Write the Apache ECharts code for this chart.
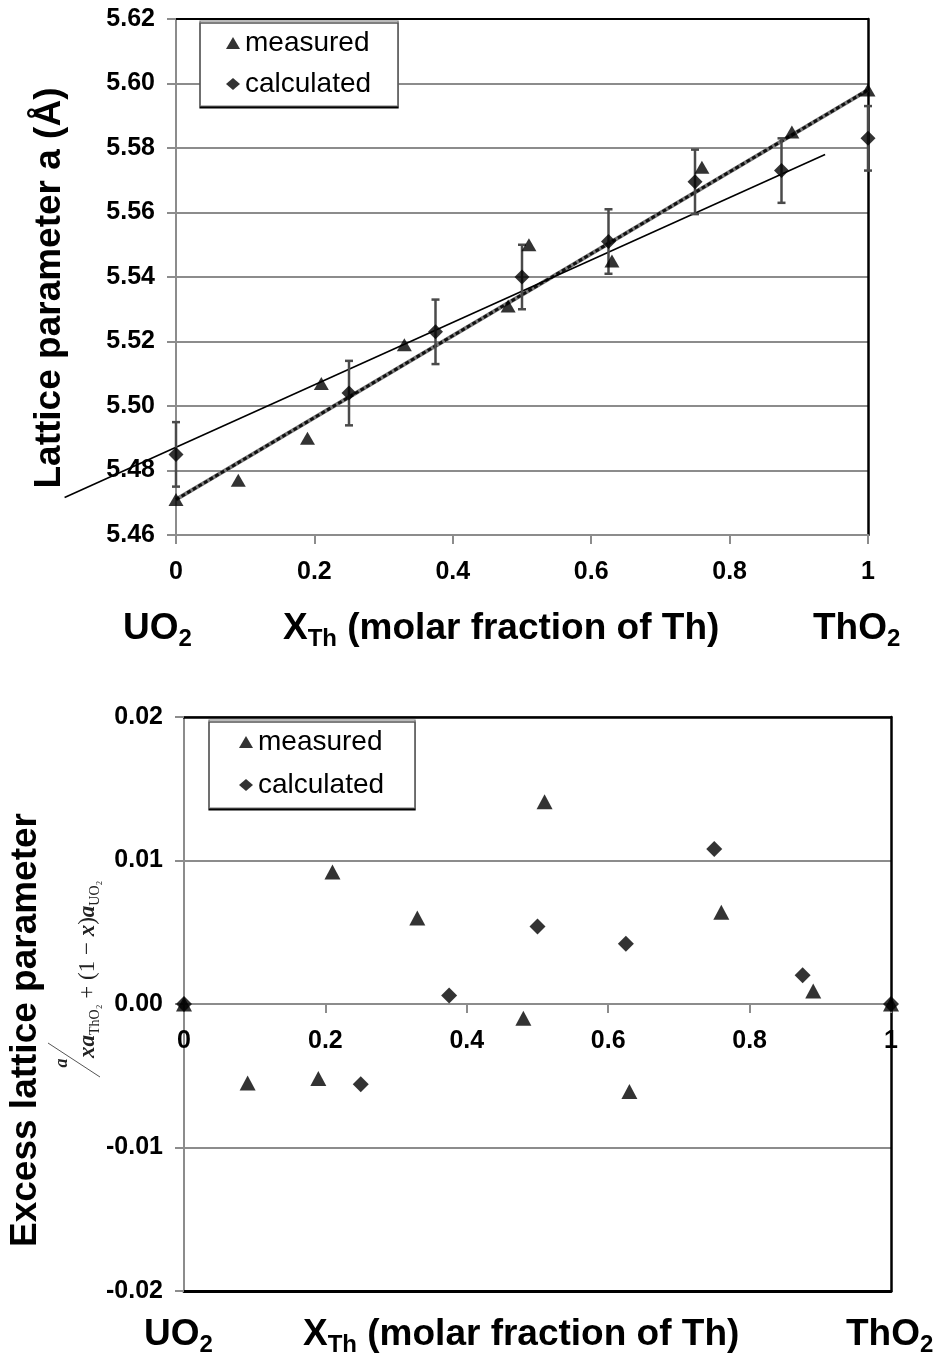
<!DOCTYPE html>
<html><head><meta charset="utf-8">
<script src="https://cdn.jsdelivr.net/npm/echarts@6/dist/echarts.min.js"></script>
<style>html,body{margin:0;padding:0;background:#fff}#c{width:936px;height:1361px}</style>
</head><body><div id="c"></div>
<script>
// ---- data ----
const xMeasured   = [0, 0.09, 0.19, 0.21, 0.33, 0.48, 0.51, 0.63, 0.76, 0.89, 1.0];
const aMeasured   = [5.471, 5.477, 5.490, 5.507, 5.519, 5.531, 5.550, 5.545, 5.574, 5.585, 5.598];
const xCalculated = [0, 0.25, 0.375, 0.5, 0.625, 0.75, 0.875, 1.0];
const aCalculated = [5.485, 5.504, 5.523, 5.540, 5.551, 5.5695, 5.573, 5.583];
const aCalculatedErr = [0.01, 0.01, 0.01, 0.01, 0.01, 0.01, 0.01, 0.01];
const vegardX = [0, 1];
const vegardA = [5.471, 5.598];
const fitX = [-0.161, 0.938];
const fitA = [5.4716, 5.578];
const excessMeasured   = [0, -0.0055, -0.0052, 0.0092, 0.0060, -0.0010, 0.0141, -0.0061, 0.0064, 0.0009, 0];
const excessCalculated = [0, -0.0056, 0.0006, 0.0054, 0.0042, 0.0108, 0.0020, 0];
const seriesNames = ['measured', 'calculated'];

// ---- styling ----
const SANS = '"Liberation Sans", Arial, sans-serif';
const SERIF = '"Liberation Serif", "Times New Roman", serif';
const GRAY = '#8c8c8c';
const pairs = (xs, ys) => xs.map((x, i) => [x, ys[i]]);

// top plot geometry (pixels) and an extended hidden grid with the same scale
const TOP = {left: 176, top: 19, width: 692, height: 516};
const EXT_MIN = -0.2;
const BOT = {left: 184, top: 717, width: 707, height: 574};

const chart = echarts.init(document.getElementById('c'), null, {renderer: 'canvas'});

const tickLabel = {color: '#000', fontFamily: SANS, fontWeight: 'bold', fontSize: 25};
function mainXAxis(gridIndex, offset) {
  return {
    type: 'value', gridIndex, min: 0, max: 1, interval: 0.2, position: 'bottom', offset: offset || 0,
    axisLine: {show: true, onZero: false, lineStyle: {color: GRAY, width: 2}},
    axisTick: {show: true, inside: false, length: 9, lineStyle: {color: GRAY, width: 2}},
    axisLabel: Object.assign({margin: 25}, tickLabel),
    splitLine: {show: false}
  };
}
function borderXAxis(gridIndex, pos, width) {
  return {
    type: 'value', gridIndex, min: 0, max: 1, position: pos,
    axisLine: {show: true, onZero: false, lineStyle: {color: '#000', width: width}},
    axisTick: {show: false}, axisLabel: {show: false}, splitLine: {show: false}
  };
}
function borderYAxis(gridIndex, min, max) {
  return {
    type: 'value', gridIndex, min, max, position: 'right',
    axisLine: {show: true, onZero: false, lineStyle: {color: '#000', width: 2.5}},
    axisTick: {show: false}, axisLabel: {show: false}, splitLine: {show: false}
  };
}
function hiddenAxis(gridIndex, min, max) {
  return {type: 'value', gridIndex, min, max, show: false};
}

function errorBarRender(params, api) {
  const x = api.value(0);
  const lo = api.coord([x, api.value(1)]);
  const hi = api.coord([x, api.value(2)]);
  const w = 4;
  const st = {stroke: '#4a4a4a', lineWidth: 2.5};
  return {type: 'group', children: [
    {type: 'line', shape: {x1: lo[0], y1: lo[1], x2: hi[0], y2: hi[1]}, style: st},
    {type: 'line', shape: {x1: lo[0] - w, y1: lo[1], x2: lo[0] + w, y2: lo[1]}, style: st},
    {type: 'line', shape: {x1: hi[0] - w, y1: hi[1], x2: hi[0] + w, y2: hi[1]}, style: st}
  ]};
}

const legendBase = {
  orient: 'vertical', itemWidth: 14, itemHeight: 12,
  backgroundColor: '#fff', borderColor: '#777', borderWidth: 1.2,
  shadowColor: '#000', shadowOffsetY: 2, shadowOffsetX: 0, shadowBlur: 0,
  textStyle: {color: '#000', fontFamily: SANS, fontSize: 28, lineHeight: 28},
  data: [{name: seriesNames[0], icon: 'triangle'}, {name: seriesNames[1], icon: 'diamond'}],
  selectedMode: false
};

const titleMain = {fontFamily: SANS, fontWeight: 'bold', fontSize: 37, lineHeight: 44};
const titleSub  = {fontFamily: SANS, fontWeight: 'bold', fontSize: 24, lineHeight: 20, verticalAlign: 'bottom'};
function richText(x, y, text, rotation) {
  return {
    type: 'text', x, y, rotation: rotation || 0, silent: true,
    style: {text, fill: '#000', align: 'left', verticalAlign: 'middle', rich: {m: titleMain, s: titleSub}}
  };
}

const mathMain = {fontFamily: SERIF, fontSize: 23, lineHeight: 28, fill: '#222'};
const mathBI   = {fontFamily: SERIF, fontSize: 23, lineHeight: 28, fontWeight: 'bold', fontStyle: 'italic'};
const mathSub  = {fontFamily: SERIF, fontSize: 14, lineHeight: 14, verticalAlign: 'bottom'};

const extWidth = TOP.width * (1 - EXT_MIN);
const option = {
  animation: false,
  backgroundColor: '#fff',
  grid: [
    TOP,
    BOT,
    {left: TOP.left + EXT_MIN * TOP.width, top: TOP.top, width: extWidth, height: TOP.height}
  ],
  xAxis: [
    mainXAxis(0, 0),
    borderXAxis(0, 'top', 2),
    mainXAxis(1, -BOT.height / 2),
    borderXAxis(1, 'top', 2.5),
    borderXAxis(1, 'bottom', 3),
    hiddenAxis(2, EXT_MIN, 1)
  ],
  yAxis: [
    {
      type: 'value', gridIndex: 0, min: 5.46, max: 5.62, interval: 0.02, position: 'left',
      axisLine: {show: true, onZero: false, lineStyle: {color: GRAY, width: 2}},
      axisTick: {show: true, length: 9, lineStyle: {color: GRAY, width: 2}},
      axisLabel: Object.assign({margin: 21, formatter: v => v.toFixed(2)}, tickLabel),
      splitLine: {show: true, lineStyle: {color: GRAY, width: 2}}
    },
    borderYAxis(0, 5.46, 5.62),
    {
      type: 'value', gridIndex: 1, min: -0.02, max: 0.02, interval: 0.01, position: 'left',
      axisLine: {show: true, onZero: false, lineStyle: {color: GRAY, width: 2}},
      axisTick: {show: true, length: 9, lineStyle: {color: GRAY, width: 2}},
      axisLabel: Object.assign({margin: 21, formatter: v => v.toFixed(2)}, tickLabel),
      splitLine: {show: true, lineStyle: {color: GRAY, width: 2}}
    },
    borderYAxis(1, -0.02, 0.02),
    hiddenAxis(2, 5.46, 5.62)
  ],
  legend: [
    Object.assign({left: 200, top: 21, itemGap: 13, padding: [8, 27, 8, 26]}, legendBase),
    Object.assign({left: 209, top: 720, itemGap: 15, padding: [8, 31, 9, 30]}, legendBase)
  ],
  series: [
    // top chart
    {name: 'vegard-base', type: 'line', xAxisIndex: 0, yAxisIndex: 0, data: pairs(vegardX, vegardA),
     symbol: 'none', silent: true, lineStyle: {color: '#7a7a7a', width: 4}, z: 2},
    {name: 'vegard', type: 'line', xAxisIndex: 0, yAxisIndex: 0, data: pairs(vegardX, vegardA),
     symbol: 'none', silent: true, lineStyle: {color: '#111', width: 3, type: [4, 2.5]}, z: 2},
    {name: 'fit', type: 'line', xAxisIndex: 5, yAxisIndex: 4, data: pairs(fitX, fitA),
     symbol: 'none', silent: true, lineStyle: {color: '#000', width: 1.6}, z: 2},
    {name: 'err', type: 'custom', xAxisIndex: 0, yAxisIndex: 0, renderItem: errorBarRender, silent: true,
     data: xCalculated.map((x, i) => [x, aCalculated[i] - aCalculatedErr[i], aCalculated[i] + aCalculatedErr[i]]),
     encode: {x: 0, y: [1, 2]}, z: 3},
    {name: seriesNames[0], type: 'scatter', xAxisIndex: 0, yAxisIndex: 0, data: pairs(xMeasured, aMeasured),
     symbol: 'triangle', symbolSize: [15, 13], itemStyle: {color: '#000'}, z: 4},
    {name: seriesNames[1], type: 'scatter', xAxisIndex: 0, yAxisIndex: 0, data: pairs(xCalculated, aCalculated),
     symbol: 'diamond', symbolSize: [15, 15], itemStyle: {color: '#000'}, z: 5},
    // bottom chart
    {name: seriesNames[0], type: 'scatter', xAxisIndex: 2, yAxisIndex: 2, data: pairs(xMeasured, excessMeasured),
     symbol: 'triangle', symbolSize: [16, 15], itemStyle: {color: '#000'}, z: 4},
    {name: seriesNames[1], type: 'scatter', xAxisIndex: 2, yAxisIndex: 2, data: pairs(xCalculated, excessCalculated),
     symbol: 'diamond', symbolSize: [16, 16], itemStyle: {color: '#000'}, z: 5}
  ],
  graphic: [
    {type: 'text', x: 50, y: 288, rotation: Math.PI / 2, silent: true,
     style: {text: 'Lattice parameter a (Å)', fill: '#000', align: 'center', verticalAlign: 'middle',
             font: 'bold 37px ' + SANS}},
    richText(123, 629, '{m|UO}{s|2}'),
    richText(283, 629, '{m|X}{s|Th}{m| (molar fraction of Th)}'),
    richText(813, 629, '{m|ThO}{s|2}'),

    {type: 'text', x: 26, y: 1030, rotation: Math.PI / 2, silent: true,
     style: {text: 'Excess lattice parameter', fill: '#000', align: 'center', verticalAlign: 'middle',
             font: 'bold 37px ' + SANS}},
    {type: 'text', x: 62, y: 1063, rotation: Math.PI / 2, silent: true,
     style: {text: 'a', fill: '#222', align: 'center', verticalAlign: 'middle',
             font: 'italic bold 18px ' + SERIF}},
    {type: 'line', silent: true, shape: {x1: 48, y1: 1043, x2: 100, y2: 1077}, style: {stroke: '#555', lineWidth: 1}},
    {type: 'text', x: 88, y: 1058, rotation: Math.PI / 2, silent: true,
     style: {text: '{bi|xa}{s|ThO₂}{m| + (1 − }{bi|x}{m|)}{bi|a}{s|UO₂}', fill: '#222', align: 'left', verticalAlign: 'middle',
             rich: {m: mathMain, bi: mathBI, s: mathSub}}},
    richText(144, 1335, '{m|UO}{s|2}'),
    richText(303, 1335, '{m|X}{s|Th}{m| (molar fraction of Th)}'),
    richText(846, 1335, '{m|ThO}{s|2}')
  ]
};
chart.setOption(option);
</script>
</body></html>
